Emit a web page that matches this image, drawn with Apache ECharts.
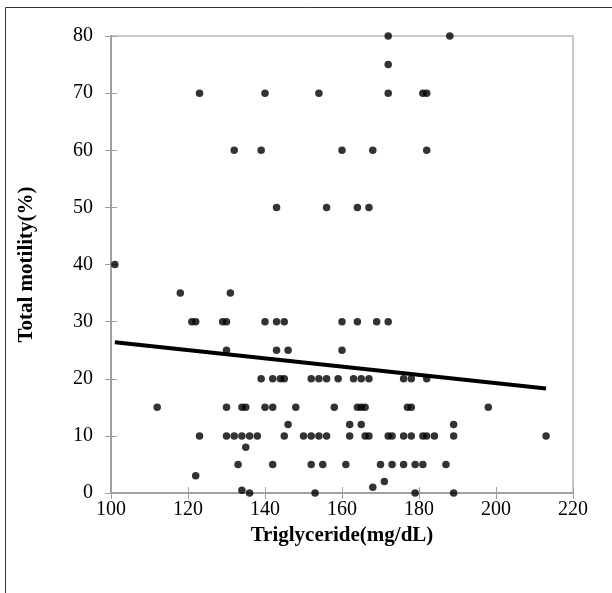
<!DOCTYPE html>
<html>
<head>
<meta charset="utf-8">
<script src="https://cdn.jsdelivr.net/npm/echarts@6/dist/echarts.min.js"></script>
<style>
  html, body { margin: 0; padding: 0; background: #fff; }
  #chart { width: 612px; height: 593px; }
</style>
</head>
<body>
<div id="chart"></div>
<script>
// Triglyceride (mg/dL) for each subject, grouped by motility level
const triglyceride = [
  172, 188,
  172,
  123, 140, 154, 172, 181, 182,
  132, 139, 160, 168, 182,
  143, 156, 164, 167,
  101,
  118, 131,
  121, 122, 129, 130, 140, 143, 145, 160, 164, 169, 172,
  130, 143, 146, 160,
  139, 142, 144, 145, 152, 154, 156, 159, 163, 165, 167, 176, 178, 182,
  112, 130, 134, 135, 140, 142, 148, 158, 164, 165, 166, 177, 178, 198,
  146, 162, 165, 189,
  123, 130, 132, 134, 136, 138, 145, 150, 152, 154, 156, 162, 166, 167, 172, 173, 176, 178, 181, 182, 184, 189, 213,
  135,
  133, 142, 152, 155, 161, 170, 173, 176, 179, 181, 187,
  122,
  171,
  168,
  134,
  136, 153, 179, 189
];

// Total motility (%) for the same subjects
const motility = [
  80, 80,
  75,
  70, 70, 70, 70, 70, 70,
  60, 60, 60, 60, 60,
  50, 50, 50, 50,
  40,
  35, 35,
  30, 30, 30, 30, 30, 30, 30, 30, 30, 30, 30,
  25, 25, 25, 25,
  20, 20, 20, 20, 20, 20, 20, 20, 20, 20, 20, 20, 20, 20,
  15, 15, 15, 15, 15, 15, 15, 15, 15, 15, 15, 15, 15, 15,
  12, 12, 12, 12,
  10, 10, 10, 10, 10, 10, 10, 10, 10, 10, 10, 10, 10, 10, 10, 10, 10, 10, 10, 10, 10, 10, 10,
  8,
  5, 5, 5, 5, 5, 5, 5, 5, 5, 5, 5,
  3,
  2,
  1,
  0.5,
  0, 0, 0, 0
];

// Linear trend line end points
const trendX = [101, 213];
const trendY = [26.4, 18.3];

const xTicks = { min: 100, max: 220, interval: 20 };
const yTicks = { min: 0, max: 80, interval: 10 };

const points = triglyceride.map((t, i) => [t, motility[i]]);
const trend = trendX.map((t, i) => [t, trendY[i]]);

const serif = '"Liberation Serif", "Times New Roman", serif';
const axisGray = '#a0a0a0';

const chart = echarts.init(document.getElementById('chart'), null, { renderer: 'canvas' });

const baseX = {
  type: 'value',
  min: xTicks.min, max: xTicks.max, interval: xTicks.interval,
  splitLine: { show: false }
};
const baseY = {
  type: 'value',
  min: yTicks.min, max: yTicks.max, interval: yTicks.interval,
  splitLine: { show: false }
};

chart.setOption({
  animation: false,
  backgroundColor: '#fff',
  graphic: [{
    type: 'rect',
    shape: { x: 5.5, y: 7.5, width: 700, height: 700 },
    style: { fill: 'none', stroke: '#333', lineWidth: 1 },
    silent: true,
    z: 0
  }],
  grid: {
    left: 111, top: 36, right: 39, bottom: 100,
    show: true,
    backgroundColor: 'transparent',
    borderColor: '#c8c8c8',
    borderWidth: 2
  },
  xAxis: [
    Object.assign({}, baseX, {
      name: 'Triglyceride(mg/dL)',
      nameLocation: 'middle',
      nameGap: 18,
      nameTextStyle: { fontFamily: serif, fontWeight: 'bold', fontSize: 21, color: '#000' },
      axisLine: { show: true, onZero: false, lineStyle: { color: axisGray, width: 2 } },
      axisTick: { show: true, length: 6, lineStyle: { color: axisGray, width: 1 } },
      axisLabel: { fontFamily: serif, fontSize: 20, color: '#000', margin: 7 }
    }),
    Object.assign({}, baseX, {
      position: 'bottom',
      axisLine: { show: false },
      axisTick: { show: true, inside: true, length: 6, lineStyle: { color: axisGray, width: 1 } },
      axisLabel: { show: false }
    })
  ],
  yAxis: [
    Object.assign({}, baseY, {
      name: 'Total motility(%)',
      nameLocation: 'middle',
      nameGap: 74,
      nameTextStyle: { fontFamily: serif, fontWeight: 'bold', fontSize: 21, color: '#000' },
      axisLine: { show: true, onZero: false, lineStyle: { color: axisGray, width: 2 } },
      axisTick: { show: true, length: 6, lineStyle: { color: axisGray, width: 1 } },
      axisLabel: { fontFamily: serif, fontSize: 20, color: '#000', margin: 18 }
    }),
    Object.assign({}, baseY, {
      position: 'left',
      axisLine: { show: false },
      axisTick: { show: true, inside: true, length: 6, lineStyle: { color: axisGray, width: 1 } },
      axisLabel: { show: false }
    })
  ],
  series: [
    {
      type: 'scatter',
      data: points,
      symbol: 'circle',
      symbolSize: 7.5,
      itemStyle: { color: '#000' },
      z: 3
    },
    {
      type: 'line',
      data: trend,
      symbol: 'none',
      lineStyle: { color: '#000', width: 4 },
      z: 4
    }
  ]
});
</script>
</body>
</html>
